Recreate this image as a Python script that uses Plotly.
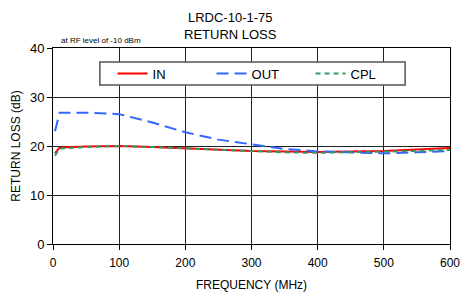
import plotly.graph_objects as go

freq = [3, 10, 50, 100, 150, 200, 250, 300, 350, 400, 450, 500, 550, 600]
rl_in = [18.5, 19.7, 19.9, 20.0, 19.8, 19.5, 19.2, 19.0, 18.9, 18.8, 18.9, 19.0, 19.3, 19.6]
rl_out = [23.0, 26.8, 26.8, 26.5, 24.8, 22.8, 21.3, 20.3, 19.4, 18.9, 18.7, 18.5, 18.7, 19.0]
rl_cpl = [18.0, 19.5, 19.8, 20.0, 19.8, 19.5, 19.2, 18.9, 18.7, 18.6, 18.7, 18.8, 19.0, 19.2]

font = "Liberation Sans, Arial, sans-serif"
fig = go.Figure()
fig.add_trace(go.Scatter(x=freq, y=rl_in, name="IN", mode="lines",
                         line=dict(color="#ff0000", width=2)))
fig.add_trace(go.Scatter(x=freq, y=rl_out, name="OUT", mode="lines",
                         line=dict(color="#3366ff", width=2, dash="12px,6px")))
fig.add_trace(go.Scatter(x=freq, y=rl_cpl, name="CPL", mode="lines",
                         line=dict(color="#339966", width=2, dash="5px,4px")))

fig.update_layout(
    width=460, height=292,
    margin=dict(l=53, r=10, t=48, b=48, autoexpand=False),
    paper_bgcolor="white", plot_bgcolor="white",
    font=dict(family=font, size=12, color="black"),
    showlegend=True,
    legend=dict(orientation="h", x=0.150, y=0.870, xanchor="left", yanchor="middle",
                bgcolor="rgba(0,0,0,0)", borderwidth=0,
                entrywidth=54, entrywidthmode="pixels",
                font=dict(size=13), itemwidth=30, tracegroupgap=0),
    xaxis=dict(range=[0, 600], tickvals=[0, 100, 200, 300, 400, 500, 600],
               showgrid=True, gridcolor="#222222", gridwidth=1,
               showline=True, linecolor="black", linewidth=1, mirror=True,
               ticks="outside", ticklen=5, tickcolor="black", automargin=False,
               ticklabeloverflow="allow", ticklabelstandoff=3,
               title=dict(text="FREQUENCY (MHz)", font=dict(size=12), standoff=12),
               zeroline=False, tickfont=dict(size=12)),
    yaxis=dict(range=[0, 40], tickvals=[0, 10, 20, 30, 40],
               showgrid=True, gridcolor="#222222", gridwidth=1,
               showline=True, linecolor="black", linewidth=1, mirror=True,
               ticks="outside", ticklen=5, tickcolor="black", automargin=False,
               ticklabeloverflow="allow",
               title=dict(text="RETURN LOSS (dB)", font=dict(size=12), standoff=6),
               zeroline=False, tickfont=dict(size=13)),
)
fig.add_shape(type="rect", xref="paper", yref="paper",
              x0=0.118, x1=0.887, y0=0.811, y1=0.929,
              line=dict(color="#555555", width=1.5), fillcolor="white", layer="above")
fig.add_annotation(text="LRDC-10-1-75<br>RETURN LOSS", xref="paper", yref="paper",
                   x=0.446, y=1.0, xanchor="center", yanchor="bottom", yshift=4,
                   showarrow=False, font=dict(size=13))
fig.add_annotation(text="at RF level of -10 dBm", xref="paper", yref="paper",
                   x=0.015, y=1.0, xanchor="left", yanchor="bottom", yshift=1,
                   showarrow=False, font=dict(size=8))
fig.write_html("out.html", config={"displayModeBar": False},
               post_script="document.body.style.margin='0';document.body.style.overflow='hidden';")
